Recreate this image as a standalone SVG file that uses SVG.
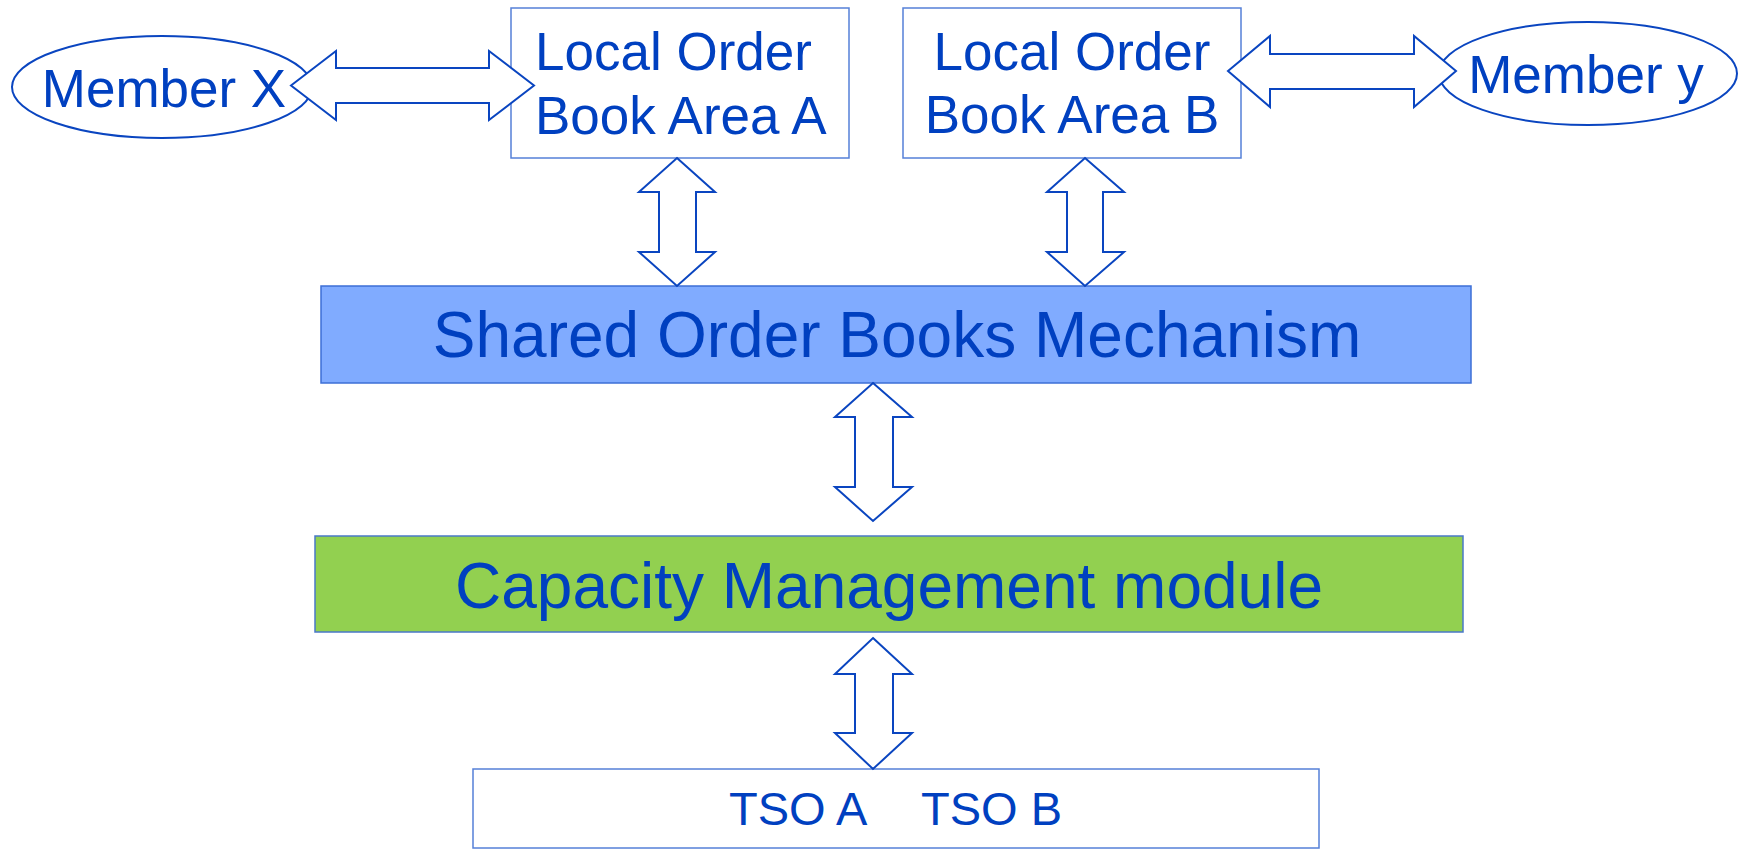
<svg xmlns="http://www.w3.org/2000/svg" width="1744" height="849" viewBox="0 0 1744 849">
<style>
.t{font-family:"Liberation Sans",Arial,sans-serif;fill:#0040c0}
.box{fill:#ffffff;stroke:#5580d8;stroke-width:1.5}
.ell{fill:#ffffff;stroke:#0a45c0;stroke-width:2}
.arr{fill:#ffffff;stroke:#0a45c0;stroke-width:2;stroke-linejoin:miter}
</style>
<rect width="1744" height="849" fill="#ffffff"/>
<g id="memberX">
<ellipse class="ell" cx="162" cy="87" rx="150" ry="51"/>
<text class="t" x="164" y="107" font-size="53" text-anchor="middle">Member X</text>
</g>
<g id="memberY">
<ellipse class="ell" cx="1588" cy="73.5" rx="149" ry="51.5"/>
<text class="t" x="1586" y="93" font-size="53" text-anchor="middle">Member y</text>
</g>
<g id="localA">
<rect class="box" x="511" y="8" width="338" height="150"/>
<text class="t" x="535" y="70" font-size="53">Local Order</text>
<text class="t" x="535" y="134" font-size="53">Book Area A</text>
</g>
<g id="localB">
<rect class="box" x="903" y="8" width="338" height="150"/>
<text class="t" x="1072" y="70" font-size="53" text-anchor="middle">Local Order</text>
<text class="t" x="1072" y="133" font-size="53" text-anchor="middle">Book Area B</text>
</g>
<g id="shared">
<rect x="321" y="286" width="1150" height="97" fill="#80abff" stroke="#3d6fd6" stroke-width="1.5"/>
<text class="t" x="897" y="357" font-size="64" text-anchor="middle">Shared Order Books Mechanism</text>
</g>
<g id="capacity">
<rect x="315" y="536" width="1148" height="96" fill="#92d050" stroke="#4a78c8" stroke-width="1.5"/>
<text class="t" x="889" y="608" font-size="64" text-anchor="middle">Capacity Management module</text>
</g>
<g id="tso">
<rect class="box" x="473" y="769" width="846" height="79"/>
<text class="t" x="729" y="825" font-size="47" style="white-space:pre">TSO A <tspan x="921">TSO B</tspan></text>
</g>
<g id="connectors">
<polygon class="arr" points="291,85.5 336,51 336,68 489,68 489,51 534,85.5 489,120 489,103 336,103 336,120"/>
<polygon class="arr" points="1228,71 1270,36 1270,54 1414,54 1414,36 1456,71 1414,107 1414,89 1270,89 1270,107"/>
<polygon class="arr" points="677,158 715,192 696,192 696,252 715,252 677,286 639,252 659,252 659,192 639,192"/>
<polygon class="arr" points="1085,158 1124,192 1103,192 1103,252 1124,252 1085,286 1047,252 1067,252 1067,192 1047,192"/>
<polygon class="arr" points="873,383 912,417 893,417 893,487 912,487 873,521 835,487 855,487 855,417 835,417"/>
<polygon class="arr" points="873,638 912,674 893,674 893,733 912,733 873,769 835,733 855,733 855,674 835,674"/>
</g>
</svg>
